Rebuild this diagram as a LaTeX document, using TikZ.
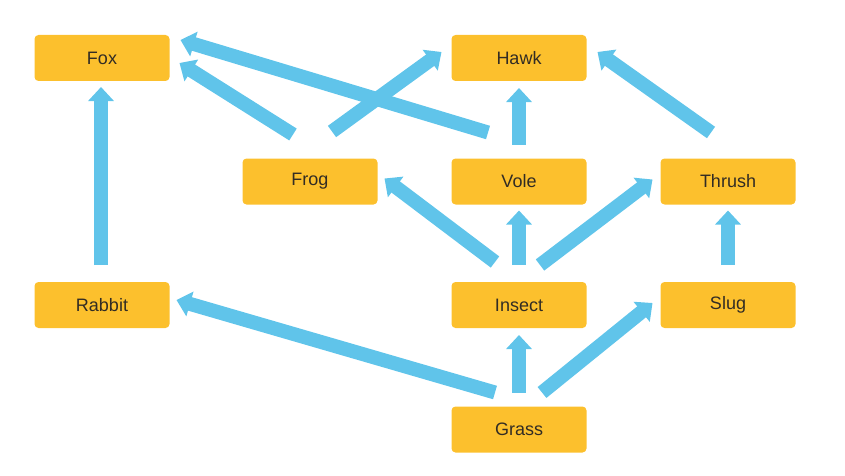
\documentclass[tikz,border=0pt]{standalone}
\usepackage{fontspec}
\setmainfont{Liberation Sans}
\usepackage{tikz}
\usetikzlibrary{positioning, arrows.meta}

\definecolor{boxorange}{RGB}{252,192,45}
\definecolor{flowblue}{RGB}{96,196,234}
\definecolor{labelgray}{RGB}{50,44,36}

\begin{document}
\begin{tikzpicture}[
    	box/.style={rectangle, fill=boxorange, rounded corners=4pt, minimum width=135pt, minimum height=46pt, inner sep=0pt, outer sep=0pt, text=labelgray, font=\fontsize{18}{18}\selectfont},
    	flow/.style={draw=flowblue, line width=14pt, -{Triangle[width=25pt, length=14pt]}},
    ]
    \useasboundingbox (0,0) rectangle (845pt,475pt);
    % Top row
    \node[box] (hawk) at (519pt,417pt) {Hawk};
    \node[box, left=282pt of hawk] (fox) {Fox};
    % Second row
    \node[box, below=77.5pt of hawk] (vole) {Vole};
    \node[box, left=74pt of vole] (frog) {Frog};
    \node[box, right=74pt of vole] (thrush) {Thrush};
    % Third row
    \node[box, below=77.5pt of vole] (insect) {Insect};
    \node[box, below=77.5pt of thrush] (slug) {Slug};
    \node[box, below=201pt of fox] (rabbit) {Rabbit};
    % Bottom
    \node[box, below=78.5pt of insect] (grass) {Grass};
    
    % Edges Fox
    \draw[flow] ([xshift=-1pt, yshift=17pt]rabbit.north) -- ([xshift=-1pt, yshift=-6pt]fox.south);
    \draw[flow] ([xshift=-17pt, yshift=24pt]frog.north) -- ([xshift=10pt, yshift=-5pt]fox.east);
    \draw[flow] ([xshift=-31pt, yshift=26pt]vole.north) -- ([xshift=11pt, yshift=-5pt]fox.north east);
    % Edges Hawk
    \draw[flow] ([xshift=22pt, yshift=27pt]frog.north) -- ([xshift=-10pt, yshift=6pt]hawk.west);
    \draw[flow] ([yshift=14pt]vole.north) -- ([yshift=-7pt]hawk.south);
    \draw[flow] ([xshift=-17pt, yshift=26pt]thrush.north) -- ([xshift=11pt, yshift=6pt]hawk.east);
    % Edges Insect
    \draw[flow] ([xshift=-24pt, yshift=20pt]insect.north) -- ([xshift=7pt, yshift=3pt]frog.east);
    \draw[flow] ([yshift=17pt]insect.north) -- ([yshift=-6pt]vole.south);
    \draw[flow] ([xshift=21pt, yshift=17pt]insect.north) -- ([xshift=-8pt, yshift=2pt]thrush.west);
    \draw[flow] ([yshift=17pt]slug.north) -- ([yshift=-6pt]thrush.south);
    % Edges Grass
    \draw[flow] ([xshift=-24pt, yshift=14pt]grass.north) -- ([xshift=7pt, yshift=5pt]rabbit.east);
    \draw[flow] ([yshift=14pt]grass.north) -- ([yshift=-7pt]insect.south);
    \draw[flow] ([xshift=23pt, yshift=14pt]grass.north) -- ([xshift=-8pt, yshift=2pt]slug.west);
\end{tikzpicture}
\end{document}
